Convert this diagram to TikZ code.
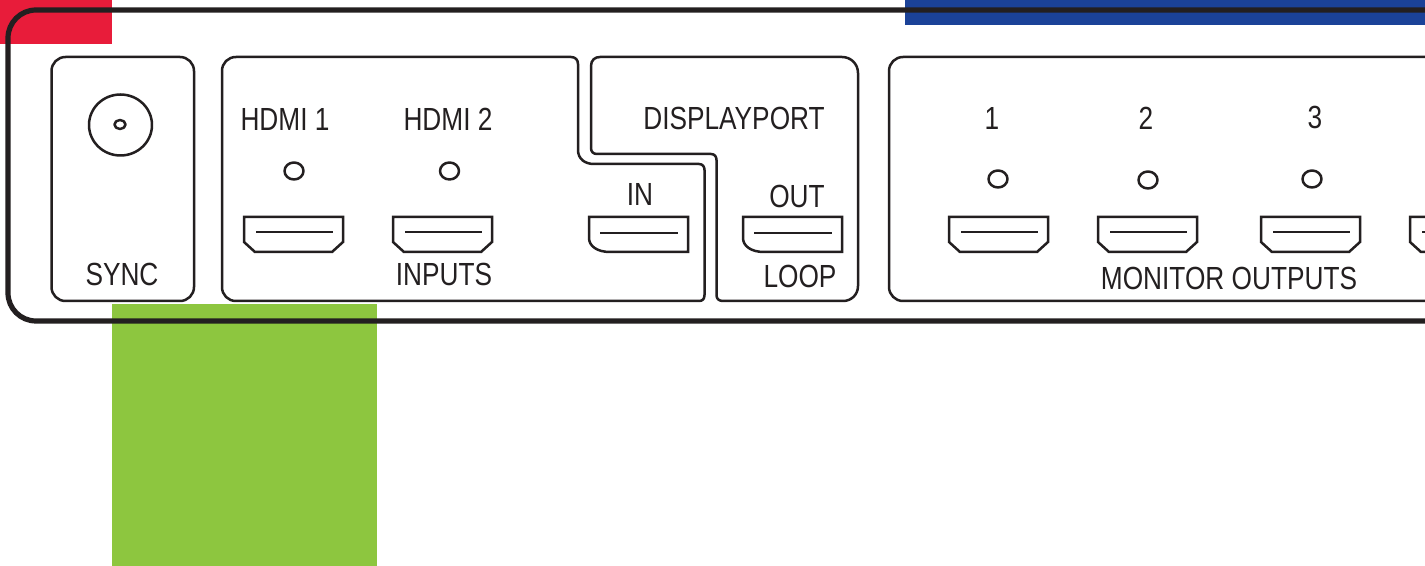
\documentclass[tikz,border=0pt]{standalone}
\usepackage{fontspec}
\setmainfont{Liberation Sans}[FakeStretch=0.82]
\definecolor{inkk}{HTML}{231F20}
\definecolor{redd}{HTML}{E81C3A}
\definecolor{grn}{HTML}{8DC63F}
\definecolor{blu}{HTML}{1B4298}
\tikzset{
  frameline/.style={draw=inkk,line width=2.6pt},
  panelline/.style={draw=inkk,line width=1.25pt,line join=round},
  portline/.style={draw=inkk,line width=1.25pt,line join=miter},
  lbl/.style={inner sep=0pt,text=inkk,font=\fontsize{16}{17}\selectfont},
}
\newcommand{\hdmiport}[1]{%
  \draw[portline,shift={(#1,0)}] (0,217) -- (99,217) -- (99,242) -- (88,252) -- (11,252) -- (0,242) -- cycle;
  \draw[portline,shift={(#1,0)}] (12,232) -- (89,232);
}
\newcommand{\dpport}[1]{%
  \draw[portline,shift={(#1,0)}] (0,217) -- (99,217) -- (99,252) -- (21,252) .. controls (8,252) and (0,246) .. (0,238) -- cycle;
  \draw[portline,shift={(#1,0)}] (11,233) -- (89,233);
}
\begin{document}
\begin{tikzpicture}[x=0.5pt,y=-0.5pt]
\useasboundingbox (0,0) rectangle (1425,566);
\clip (0,0) rectangle (1425,566);
\fill[white] (0,0) rectangle (1425,566);
% colour blocks
\fill[redd] (0,0) rectangle (112,44);
\fill[blu] (905,0) rectangle (1425,25);
\fill[grn] (112,304) rectangle (377,566);
% outer frame
\draw[frameline,rounded corners=14pt] (1460,10) -- (8,10) -- (8,321) -- (1460,321);
% sync
\draw[panelline,rounded corners=7pt] (51.5,57) rectangle (194,301);
\draw[panelline] (120.5,125) ellipse [x radius=31.5,y radius=30.5];
\draw[panelline] (120,124.5) ellipse [x radius=5.5,y radius=4.5];
\node[lbl] (sync) at (122,274) {SYNC};
% inputs
\draw[panelline] (222,71) .. controls (222,63) and (228,57) .. (236,57) -- (571,57) .. controls (575.5,57) and (578,60) .. (578,64)
  -- (578,150) .. controls (578,159) and (585,164) .. (594,164)
  -- (699,164) .. controls (702.5,164) and (704.5,166.5) .. (704.5,170)
  -- (704.5,295) .. controls (704.5,299) and (702.5,301) .. (699,301)
  -- (236,301) .. controls (228,301) and (222,295) .. (222,287) -- cycle;
% displayport
\draw[panelline] (591,66) .. controls (591,60) and (595,57) .. (600,57)
  -- (842,57) .. controls (851,57) and (858,64) .. (858,73)
  -- (858,286) .. controls (858,295) and (851,301) .. (843,301)
  -- (723,301) .. controls (719,301) and (716.5,299) .. (716.5,295)
  -- (716.5,160) .. controls (716.5,156.5) and (714.5,154) .. (711,154)
  -- (597,154) .. controls (593.5,154) and (591,152) .. (591,148) -- cycle;
% monitor outputs
\draw[panelline,rounded corners=7pt] (1460,57) -- (889,57) -- (889,301) -- (1460,301);
% leds
\foreach \n/\lx/\ly in {a/294/171,b/449.5/171,c/998/179,d/1148/180,e/1312/179}
  \draw[panelline] (\lx,\ly) ellipse [x radius=9.5,y radius=8.5];
% ports
\hdmiport{244}\hdmiport{393}\hdmiport{949}\hdmiport{1098}\hdmiport{1261}\hdmiport{1410}
\dpport{589}\dpport{743}
% labels
\node[lbl] (h1) at (285,119) {HDMI 1};
\node[lbl] (h2) at (448,119) {HDMI 2};
\node[lbl] (inp) at (444,274.5) {INPUTS};
\node[lbl] (in) at (640,194.5) {IN};
\node[lbl] (dp) at (734,118.5) {DISPLAYPORT};
\node[lbl] (out) at (797,196.5) {OUT};
\node[lbl] (loop) at (800,276.5) {LOOP};
\node[lbl] (m1) at (992,118.5) {1};
\node[lbl] (m2) at (1146,118.5) {2};
\node[lbl] (m3) at (1315,117.5) {3};
\node[lbl] (mo) at (1229,278.5) {MONITOR OUTPUTS};
\end{tikzpicture}
\end{document}
